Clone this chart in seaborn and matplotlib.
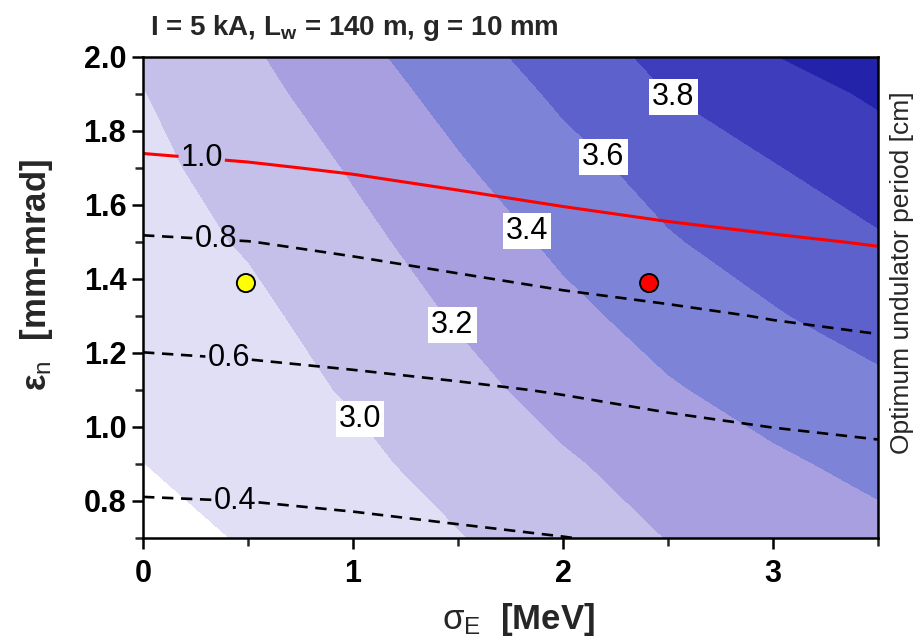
import numpy as np
import pandas as pd
import matplotlib
matplotlib.use("Agg")
import matplotlib.pyplot as plt
from matplotlib.ticker import MultipleLocator, FixedLocator
import seaborn as sns

# Grid of the scan: energy spread (MeV) along x, normalized emittance (mm-mrad) along y
sigma_e = [0.0, 0.5, 1.0, 1.5, 2.0, 2.5, 3.0, 3.5]
emittance = [0.7, 0.9, 1.1, 1.3, 1.5, 1.7, 1.9, 2.0]

# Optimum undulator period [cm], one row per emittance value
period_cm = [
    [2.730, 2.815, 2.903, 2.991, 3.098, 3.204, 3.277, 3.349],
    [2.798, 2.879, 2.960, 3.060, 3.177, 3.275, 3.370, 3.447],
    [2.859, 2.934, 3.015, 3.142, 3.264, 3.381, 3.472, 3.557],
    [2.895, 2.955, 3.083, 3.216, 3.351, 3.472, 3.584, 3.680],
    [2.925, 3.016, 3.147, 3.290, 3.438, 3.583, 3.683, 3.777],
    [2.958, 3.068, 3.216, 3.377, 3.534, 3.669, 3.788, 3.900],
    [2.994, 3.137, 3.297, 3.467, 3.633, 3.800, 3.914, 4.027],
    [3.029, 3.171, 3.342, 3.515, 3.689, 3.853, 3.992, 4.130],
]

# Second quantity drawn as line contours (same grid)
ratio = [
    [0.345, 0.350, 0.364, 0.381, 0.398, 0.418, 0.436, 0.452],
    [0.444, 0.451, 0.465, 0.483, 0.502, 0.523, 0.541, 0.558],
    [0.543, 0.552, 0.567, 0.585, 0.607, 0.634, 0.661, 0.685],
    [0.655, 0.668, 0.688, 0.713, 0.743, 0.772, 0.808, 0.837],
    [0.784, 0.798, 0.827, 0.864, 0.907, 0.946, 0.979, 1.010],
    [0.961, 0.984, 1.016, 1.058, 1.101, 1.141, 1.175, 1.210],
    [1.160, 1.183, 1.216, 1.258, 1.301, 1.341, 1.375, 1.410],
    [1.260, 1.283, 1.316, 1.358, 1.401, 1.441, 1.475, 1.510],
]

period_levels = [2.8, 3.0, 3.2, 3.4, 3.6, 3.8, 4.0]
period_labels = [3.0, 3.2, 3.4, 3.6, 3.8]
dashed_levels = [0.4, 0.6, 0.8]
solid_level = [1.0]

# Two working points
point_sigma = [0.49, 2.41]
point_eps = [1.389, 1.389]
point_names = ["a", "b"]

x_ticks = [0, 1, 2, 3]
y_ticks = [0.8, 1.0, 1.2, 1.4, 1.6, 1.8, 2.0]

sns.set_theme(style="ticks")
plt.rcParams["font.family"] = ["Liberation Sans", "DejaVu Sans"]
plt.rcParams["mathtext.fontset"] = "custom"
plt.rcParams["mathtext.rm"] = "Liberation Sans"
plt.rcParams["mathtext.it"] = "Liberation Sans:italic"
plt.rcParams["mathtext.bf"] = "Liberation Sans:bold"
plt.rcParams["lines.dashed_pattern"] = [4.3, 2.9]

fig = plt.figure(figsize=(9.21, 6.41), dpi=100)
ax = fig.add_axes([0.1553, 0.1607, 0.7980, 0.7504])

X, Y = np.meshgrid(sigma_e, emittance)
Z = np.array(period_cm)
R = np.array(ratio)

band_colors = ["#FFFFFF", "#E1DFF5", "#C5C0EA", "#A89FE0",
               "#7D84D7", "#5D61CB", "#3E3EBC", "#2222AA"]
ax.contourf(X, Y, Z, levels=[0.0] + period_levels + [9.0], colors=band_colors)

# invisible guide lines carrying the period labels
guide = ax.contour(X, Y, Z, levels=period_labels, colors="k", linewidths=0)
ptexts = ax.clabel(guide, inline=False, fmt="%.1f", fontsize=22, colors="black",
                   manual=[(1.055, 1.03), (1.46, 1.27), (1.81, 1.52),
                           (2.16, 1.71), (2.525, 1.89)])
for t in ptexts:
    t.set_rotation(0)
    t.set_bbox(dict(boxstyle="square,pad=0.1", fc="white", ec="none"))
    t.set_zorder(6)

dcs = ax.contour(X, Y, R, levels=dashed_levels, colors="black",
                 linestyles="dashed", linewidths=1.9)
rcs = ax.contour(X, Y, R, levels=solid_level, colors="#FF0000",
                 linestyles="solid", linewidths=2.2)
dtexts = ax.clabel(dcs, inline=True, inline_spacing=2, fmt="%.1f", fontsize=22,
                   colors="black",
                   manual=[(0.44, 0.805), (0.41, 1.208), (0.35, 1.516)])
rtexts = ax.clabel(rcs, inline=True, inline_spacing=2, fmt="%.1f", fontsize=22,
                   colors="black", manual=[(0.28, 1.73)])
for t in list(dtexts) + list(rtexts):
    t.set_rotation(0)

pts = pd.DataFrame({"sigma": point_sigma, "eps": point_eps, "name": point_names})
sns.scatterplot(data=pts, x="sigma", y="eps", hue="name",
                palette=["#FFFF00", "#FF0000"], s=170, edgecolor="black",
                linewidth=1.4, legend=False, ax=ax, zorder=7)

ax.set_xlim(0, 3.5)
ax.set_ylim(0.7, 2.0)
ax.set_xlabel("")
ax.set_ylabel("")
ax.xaxis.set_major_locator(FixedLocator(x_ticks))
ax.xaxis.set_minor_locator(MultipleLocator(0.5))
ax.yaxis.set_major_locator(FixedLocator(y_ticks))
ax.yaxis.set_minor_locator(FixedLocator([0.7, 0.9, 1.1, 1.3, 1.5, 1.7, 1.9]))
ax.set_xticklabels([str(v) for v in x_ticks])
ax.set_yticklabels([f"{v:.1f}" for v in y_ticks])
ax.tick_params(which="major", direction="out", length=8, width=1.8,
               labelsize=22, colors="black")
ax.tick_params(which="minor", direction="out", length=6, width=1.8)
ax.tick_params(axis="x", which="both", pad=7)
ax.tick_params(axis="y", which="both", pad=4)
for lab in ax.get_xticklabels() + ax.get_yticklabels():
    lab.set_fontweight("bold")
for sp in ax.spines.values():
    sp.set_linewidth(1.8)
    sp.set_color("black")
    sp.set_visible(True)

fig.text(0.163, 0.945, r"I = 5 kA, L$_\mathbf{w}$ = 140 m, g = 10 mm",
         fontsize=20, fontweight="bold", ha="left", va="baseline")
fig.text(0.040, 0.571, r"$\mathbf{\varepsilon}_\mathrm{n}$  [mm-mrad]", fontsize=25,
         fontweight="bold", rotation=90, ha="center", va="center")
fig.text(0.563, 0.033, r"$\mathrm{\sigma_E}$  [MeV]", fontsize=25,
         fontweight="bold", ha="center", va="center")
fig.text(0.979, 0.575, "Optimum undulator period [cm]", fontsize=19,
         rotation=90, ha="center", va="center")

fig.savefig("out.png", dpi=100)
